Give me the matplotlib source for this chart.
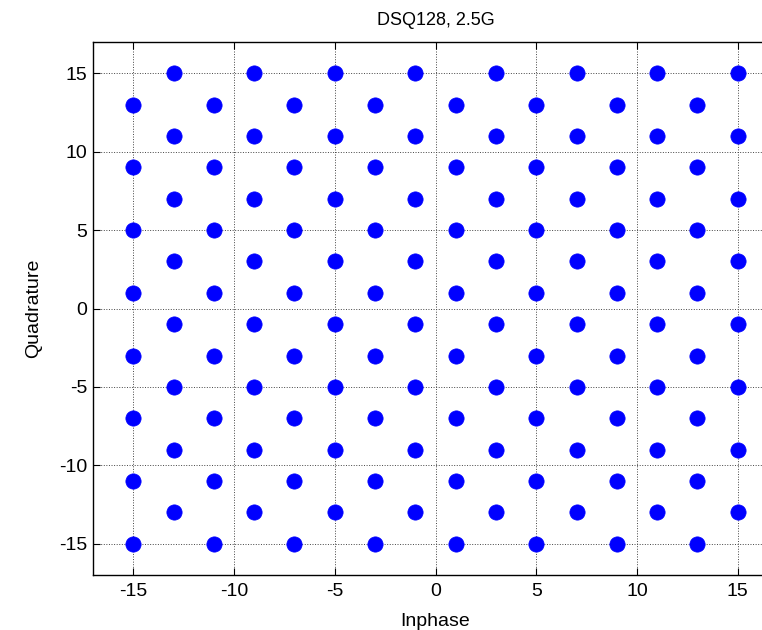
import matplotlib
matplotlib.use("Agg")
import matplotlib.pyplot as plt
import numpy as np

# DSQ128 constellation: ideal symbol levels
# rows whose Q level is 15, 11, 7, 3, -1, -5, -9, -13 use inphase levels A
# rows whose Q level is 13, 9, 5, 1, -3, -7, -11, -15 use inphase levels B
q_rows_a = [15, 11, 7, 3, -1, -5, -9, -13]
i_levels_a = [-13, -9, -5, -1, 3, 7, 11, 15]
q_rows_b = [13, 9, 5, 1, -3, -7, -11, -15]
i_levels_b = [-15, -11, -7, -3, 1, 5, 9, 13]

ticks = [-15, -10, -5, 0, 5, 10, 15]

plt.rcParams['font.family'] = ['Liberation Sans', 'DejaVu Sans']
plt.rcParams['font.size'] = 14
plt.rcParams['axes.unicode_minus'] = False

fig = plt.figure(figsize=(7.62, 6.30), dpi=100)
# axes runs a bit past the right edge, as in the reference
ax = fig.add_axes([93 / 762, 55 / 630, 685 / 762, 533 / 630])

ia, qa = np.meshgrid(i_levels_a, q_rows_a)
ib, qb = np.meshgrid(i_levels_b, q_rows_b)
I = np.concatenate([ia.ravel(), ib.ravel()])
Q = np.concatenate([qa.ravel(), qb.ravel()])

ax.plot(I, Q, linestyle='none', marker='o', markersize=11,
        color='#0000FF', markeredgewidth=0.5, zorder=3)

ax.set_xlim(-17, 17)
ax.set_ylim(-17, 17)
ax.set_xticks(ticks)
ax.set_yticks(ticks)
ax.grid(True, color='#444444', linestyle=':', linewidth=0.7)
ax.set_axisbelow(True)
ax.tick_params(direction='in', top=True, right=True, length=5,
               width=0.8, labelsize=14)
ax.tick_params(axis='x', pad=6)
ax.tick_params(axis='y', pad=4)
for sp in ax.spines.values():
    sp.set_linewidth(1.0)

ax.set_title('DSQ128, 2.5G', fontsize=13, pad=12)
ax.set_xlabel('Inphase', fontsize=14, labelpad=9)
ax.set_ylabel('Quadrature', fontsize=14, labelpad=12)

fig.savefig('out.png', dpi=100)
